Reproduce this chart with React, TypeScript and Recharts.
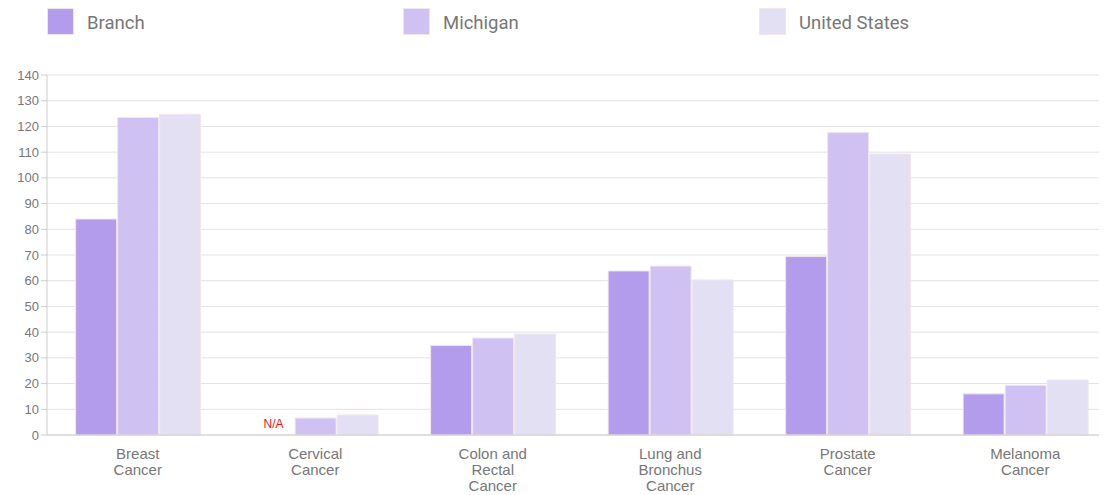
import React from 'react';
import {
  BarChart,
  Bar,
  XAxis,
  YAxis,
  CartesianGrid,
  LabelList,
} from 'recharts';

// Cancer incidence rates — Branch county vs Michigan vs United States

const categories = [
  'Breast Cancer',
  'Cervical Cancer',
  'Colon and Rectal Cancer',
  'Lung and Bronchus Cancer',
  'Prostate Cancer',
  'Melanoma Cancer',
];

// wrapped tick labels, one entry per category
const tickLines: string[][] = [
  ['Breast', 'Cancer'],
  ['Cervical', 'Cancer'],
  ['Colon and', 'Rectal', 'Cancer'],
  ['Lung and', 'Bronchus', 'Cancer'],
  ['Prostate', 'Cancer'],
  ['Melanoma', 'Cancer'],
];

const branch: (number | null)[] = [84.0, null, 34.8, 63.8, 69.4, 16.0];
const michigan = [123.5, 6.6, 37.7, 65.7, 117.7, 19.3];
const unitedStates = [124.7, 7.8, 39.3, 60.3, 109.3, 21.4];

const yTicks = [0, 10, 20, 30, 40, 50, 60, 70, 80, 90, 100, 110, 120, 130, 140];

const SERIES = [
  { key: 'branch', name: 'Branch', color: '#b39ceb' },
  { key: 'michigan', name: 'Michigan', color: '#cfc2f3' },
  { key: 'us', name: 'United States', color: '#e4e0f4' },
];

const BAR_GAP = 1;
const FONT = 'Liberation Sans, Arial, sans-serif';

const data = categories.map((c, i) => ({
  name: c,
  branch: branch[i],
  michigan: michigan[i],
  us: unitedStates[i],
}));

function CategoryTick(props: any) {
  const { x, y, payload } = props;
  const lines = tickLines[payload.index] ?? [payload.value];
  return (
    <text x={x} y={y} textAnchor="middle" fill="#777" fontSize={15} fontFamily={FONT}>
      {lines.map((l, i) => (
        <tspan key={i} x={x} dy={i === 0 ? 16 : 16}>
          {l}
        </tspan>
      ))}
    </text>
  );
}

function TopLegend() {
  return (
    <div style={{ position: 'absolute', left: 0, top: 0, width: 1107, height: 40 }}>
      {SERIES.map((s, i) => (
        <div
          key={s.key}
          style={{
            position: 'absolute',
            left: 47 + i * 356,
            top: 8,
            display: 'flex',
            alignItems: 'center',
          }}
        >
          <div
            style={{
              width: 25,
              height: 25,
              background: s.color,
              border: '1px solid #f1e6ee',
            }}
          />
          <span
            style={{
              marginLeft: 13,
              marginTop: 2,
              fontSize: 18.5,
              color: '#777',
              fontFamily: 'Roboto, sans-serif',
            }}
          >
            {s.name}
          </span>
        </div>
      ))}
    </div>
  );
}

// "N/A" for missing Branch values, placed in the Branch slot next to the Michigan bar
function NaLabel(props: any) {
  const { x, y, width, height, index } = props;
  if (branch[index] !== null && branch[index] !== undefined) return null;
  const cx = x - BAR_GAP - width / 2;
  const base = y + height;
  return (
    <text x={cx} y={base - 7} textAnchor="middle" fill="#ee1111" fontSize={12} fontFamily={FONT}>
      N/A
    </text>
  );
}

export default function App() {
  return (
    <div
      style={{
        position: 'relative',
        margin: '-8px 0 0 -8px',
        width: 1107,
        height: 495,
        overflow: 'hidden',
        background: '#fff',
      }}
    >
      <BarChart
        width={1114}
        height={495}
        data={data}
        margin={{ top: 75, right: 0, bottom: 0, left: 0 }}
        barCategoryGap="15%"
        barGap={BAR_GAP}
      >
        <CartesianGrid vertical={false} stroke="#e2e2e2" />
        <XAxis
          dataKey="name"
          height={60}
          tick={<CategoryTick />}
          tickLine={false}
          axisLine={{ stroke: '#cccccc' }}
          interval={0}
          padding={{ left: 2, right: 0 }}
        />
        <YAxis
          width={47}
          domain={[0, 140]}
          ticks={yTicks}
          interval={0}
          tick={{ fill: '#777', fontSize: 13, fontFamily: FONT }}
          tickLine={{ stroke: '#cccccc' }}
          axisLine={{ stroke: '#cccccc' }}
        />
        {SERIES.map((s) => (
          <Bar
            key={s.key}
            dataKey={s.key}
            name={s.name}
            fill={s.color}
            stroke="#f1e6ee"
            strokeWidth={1}
            isAnimationActive={false}
          >
            {s.key === 'michigan' && <LabelList dataKey="michigan" content={<NaLabel />} />}
          </Bar>
        ))}
      </BarChart>
      <TopLegend />
    </div>
  );
}
